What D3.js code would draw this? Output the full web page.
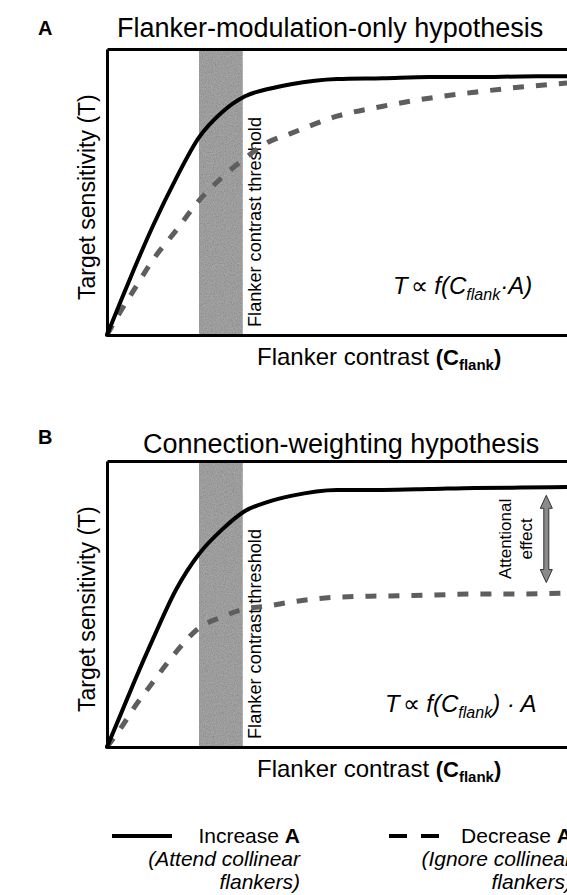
<!DOCTYPE html>
<html>
<head>
<meta charset="utf-8">
<script src="https://cdn.jsdelivr.net/npm/d3@7"></script>
<style>
  html, body { margin: 0; padding: 0; background: #fff; }
  svg { display: block; font-family: "Liberation Sans", Arial, Helvetica, sans-serif; }
</style>
</head>
<body>
<svg id="figure" width="567" height="895"></svg>
<script>

// flanker contrast (arbitrary units)
const contrast = [0, 3, 6, 10, 15, 20, 25, 30, 35, 40, 50, 60, 70, 80, 90, 100];

// A : flanker-modulation-only
const modIncrease = [0, 11.9, 23.5, 38.2, 54.7, 69.1, 77.9, 83.5, 86, 87.7, 89.5, 89.8, 90.2, 90.2, 90.4, 90.5];
const modDecrease = [0, 8.4, 16.1, 26.3, 36.5, 47, 55.1, 61.8, 67.4, 70.5, 76.5, 80, 82.8, 84.9, 86.7, 88.1];

// B : connection-weighting
const weightIncrease = [0, 11.5, 23.1, 37.8, 55, 67.5, 76, 82.5, 85.7, 87.8, 89.9, 89.9, 90.2, 90.6, 90.7, 90.9];
const weightDecrease = [0, 6.6, 14, 22.7, 33.2, 41.6, 45.5, 48.3, 49.3, 50.7, 52.4, 52.8, 53.1, 53.5, 53.5, 53.8];

// flanker contrast threshold (shaded band)
const thresholdBand = [20, 29.5];

// attentional effect arrow (contrast, sensitivity from / to)
const attentionArrow = [95.5, 57.5, 88];

const svg = d3.select("#figure");

/* grainy texture for the threshold band */
const defs = svg.append("defs");
const grain = defs.append("filter").attr("id", "grain")
  .attr("x", 0).attr("y", 0).attr("width", "100%").attr("height", "100%");
grain.append("feTurbulence")
  .attr("type", "fractalNoise").attr("baseFrequency", 0.9)
  .attr("numOctaves", 3).attr("seed", 5);
grain.append("feColorMatrix").attr("type", "saturate").attr("values", 0);
grain.append("feComponentTransfer")
  .append("feFuncA").attr("type", "linear").attr("slope", 0).attr("intercept", 1);

const panels = [
  {
    letter: "A", title: "Flanker-modulation-only hypothesis", titleX: 117, titleY: 37, letterY: 35,
    top: 49, bottom: 335, increase: modIncrease, decrease: modDecrease,
    formula: "product", formulaX: 393, formulaY: 294
  },
  {
    letter: "B", title: "Connection-weighting hypothesis", titleX: 143, titleY: 453, letterY: 444,
    top: 461, bottom: 747, increase: weightIncrease, decrease: weightDecrease,
    formula: "weight", formulaX: 385, formulaY: 712, arrow: attentionArrow
  }
];

panels.forEach(drawPanel);
drawLegend();

/* one panel */
function drawPanel(p) {

  const x = d3.scaleLinear().domain([0, 100]).range([107, 567]);
  const y = d3.scaleLinear().domain([0, 100]).range([p.bottom, p.top]);
  const g = svg.append("g");

  // panel letter and title
  g.append("text").attr("x", 38).attr("y", p.letterY)
    .style("font-size", "20px").style("font-weight", "bold").text(p.letter);
  g.append("text").attr("x", p.titleX).attr("y", p.titleY)
    .style("font-size", "27px").text(p.title);

  // threshold band
  const band = {
    x: x(thresholdBand[0]), y: y(100),
    w: x(thresholdBand[1]) - x(thresholdBand[0]), h: y(0) - y(100)
  };
  g.append("rect").attr("x", band.x).attr("y", band.y)
    .attr("width", band.w).attr("height", band.h).attr("fill", "#8c8c8c");
  g.append("rect").attr("x", band.x).attr("y", band.y)
    .attr("width", band.w).attr("height", band.h)
    .attr("filter", "url(#grain)").attr("opacity", 0.35);

  g.append("text")
    .attr("transform", `translate(${x(thresholdBand[1]) + 18},${y(0) - 8}) rotate(-90)`)
    .attr("textLength", 210).attr("lengthAdjust", "spacingAndGlyphs")
    .style("font-size", "18px").text("Flanker contrast threshold");

  // curves
  const line = d3.line()
    .x((d, i) => x(contrast[i]))
    .y(d => y(d))
    .curve(d3.curveMonotoneX);

  g.append("path").datum(p.decrease).attr("d", line)
    .attr("fill", "none").attr("stroke", "#5e5e5e")
    .attr("stroke-width", 5).attr("stroke-dasharray", "11,12");
  g.append("path").datum(p.increase).attr("d", line)
    .attr("fill", "none").attr("stroke", "#000")
    .attr("stroke-width", 4).attr("stroke-linecap", "round");

  // frame (axes without ticks)
  const frame = [
    [d3.axisLeft(y), `translate(${x(0)},0)`],
    [d3.axisBottom(x), `translate(0,${y(0)})`],
    [d3.axisTop(x), `translate(0,${y(100)})`]
  ];
  frame.forEach(([axis, tr]) => {
    const a = g.append("g").attr("transform", tr)
      .call(axis.tickValues([]).tickSizeOuter(0));
    a.select("path").attr("stroke", "#000").attr("stroke-width", 3);
  });

  // axis labels
  g.append("text")
    .attr("transform", `translate(${x(0) - 12},${y(0) - 35}) rotate(-90)`)
    .style("font-size", "23px").text("Target sensitivity (T)");

  const xl = g.append("text").attr("x", 257).attr("y", y(0) + 30)
    .style("font-size", "24px");
  xl.append("tspan").text("Flanker contrast ");
  xl.append("tspan").style("font-weight", "bold").style("font-size", "22px").text("(C");
  xl.append("tspan").style("font-weight", "bold").style("font-size", "15px")
    .attr("dy", 5).text("flank");
  xl.append("tspan").style("font-weight", "bold").style("font-size", "22px")
    .attr("dy", -5).text(")");

  // formula
  const f = g.append("text").attr("x", p.formulaX).attr("y", p.formulaY)
    .style("font-size", "24px").style("font-style", "italic");
  f.append("tspan").text("T");
  f.append("tspan").attr("dx", 3).style("font-style", "normal").text("\u221D");
  f.append("tspan").text(" f(C");
  f.append("tspan").style("font-size", "16px").attr("dy", 6).text("flank");
  if (p.formula === "product") {
    f.append("tspan").attr("dy", -6).text("\u00B7A)");
  } else {
    f.append("tspan").attr("dy", -6).text(") \u00B7 A");
  }

  // attentional effect arrow
  if (p.arrow) {
    const [ax, a0, a1] = p.arrow;
    const cx = x(ax), yb = y(a0), yt = y(a1);
    const hw = 2.5, hh = 6, hl = 13;
    const pts = [
      [cx, yt], [cx + hh, yt + hl], [cx + hw, yt + hl],
      [cx + hw, yb - hl], [cx + hh, yb - hl], [cx, yb],
      [cx - hh, yb - hl], [cx - hw, yb - hl], [cx - hw, yt + hl],
      [cx - hh, yt + hl]
    ];
    g.append("path").attr("d", d3.line()(pts) + "Z")
      .attr("fill", "#8a8a8a").attr("stroke", "#333").attr("stroke-width", 1);

    const mid = (yb + yt) / 2;
    const lbl = g.append("text")
      .attr("transform", `translate(${cx - 35},${mid}) rotate(-90)`)
      .attr("text-anchor", "middle").style("font-size", "17px");
    lbl.append("tspan").attr("x", 0).attr("y", 0).text("Attentional");
    lbl.append("tspan").attr("x", 0).attr("y", 21).text("effect");
  }
}

/* legend */
function drawLegend() {

  const items = [
    {x0: 112, len: 60, right: 300, dash: null, lines: ["(Attend collinear", "flankers)"], word: "Increase "},
    {x0: 389, len: 50, right: 572, dash: "18,14", lines: ["(Ignore collinear", "flankers)"], word: "Decrease "}
  ];
  const lg = svg.append("g");

  items.forEach((it) => {
    lg.append("line").attr("x1", it.x0).attr("x2", it.x0 + it.len)
      .attr("y1", 836).attr("y2", 836)
      .attr("stroke", "#000").attr("stroke-width", 4)
      .attr("stroke-dasharray", it.dash);

    const t = lg.append("text").attr("x", it.right).attr("y", 843)
      .attr("text-anchor", "end").style("font-size", "21px");
    t.append("tspan").text(it.word);
    t.append("tspan").style("font-weight", "bold").text("A");

    it.lines.forEach((s, k) => {
      lg.append("text").attr("x", it.right).attr("y", 866 + k * 23)
        .attr("text-anchor", "end").style("font-size", "21px")
        .style("font-style", "italic").text(s);
    });
  });
}

</script>
</body>
</html>
